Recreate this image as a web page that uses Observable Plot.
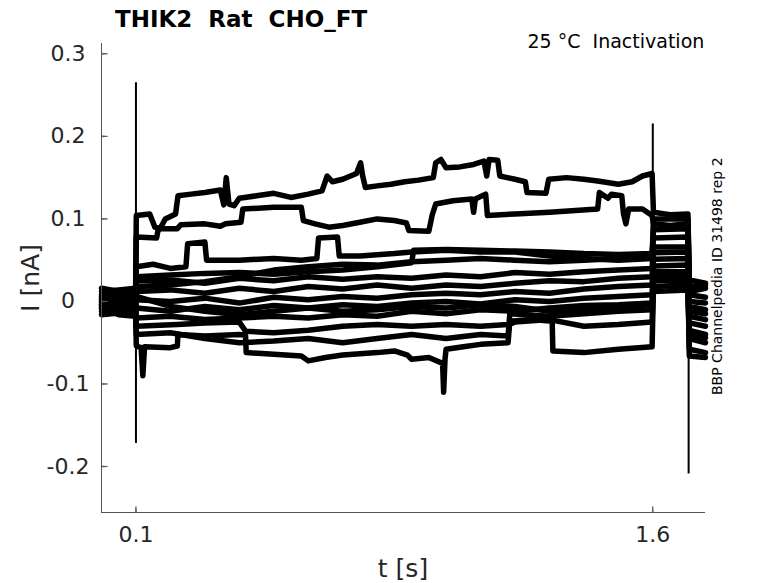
<!DOCTYPE html>
<html><head><meta charset="utf-8">
<script src="https://cdn.jsdelivr.net/npm/d3@7"></script>
<script src="https://cdn.jsdelivr.net/npm/@observablehq/plot@0.6"></script>
<style>
body{margin:0;background:#fff;}
#wrap{width:778px;height:583px;}
</style></head><body><div id="wrap"></div>
<script>
// ---- data (t in s, I in nA) ----
const xTicks = [0.1, 1.6];
const xTickLabels = ["0.1", "1.6"];
const yTicks = [0.3, 0.2, 0.1, 0, -0.1, -0.2];
const yTickLabels = ["0.3", "0.2", "0.1", "0", "-0.1", "-0.2"];
const xDomain = [0, 1.753];
const yDomain = [-0.2557, 0.3125];

// capacitive transients: [t, low, high]
const spikes = [[0.1, -0.172, 0.265], [1.6, 0.02, 0.215], [1.704, -0.209, 0.03]];

const sweepA = [[0,0.004],[0.05,0.006],[0.099,0.012],[0.101,0.104],[0.14,0.106],[0.155,0.09],[0.17,0.088],[0.185,0.1],[0.215,0.106],[0.222,0.128],[0.26,0.13],[0.3,0.132],[0.345,0.135],[0.355,0.117],[0.362,0.15],[0.37,0.118],[0.385,0.116],[0.4,0.125],[0.45,0.128],[0.5,0.131],[0.55,0.126],[0.6,0.13],[0.64,0.134],[0.655,0.152],[0.67,0.145],[0.7,0.148],[0.74,0.155],[0.752,0.168],[0.758,0.152],[0.766,0.138],[0.8,0.14],[0.84,0.142],[0.88,0.145],[0.92,0.147],[0.963,0.15],[0.97,0.168],[0.985,0.172],[1.0,0.162],[1.04,0.163],[1.08,0.166],[1.11,0.17],[1.118,0.152],[1.125,0.172],[1.15,0.171],[1.156,0.152],[1.2,0.148],[1.23,0.145],[1.235,0.132],[1.29,0.131],[1.298,0.148],[1.35,0.15],[1.4,0.148],[1.44,0.146],[1.5,0.142],[1.54,0.145],[1.57,0.152],[1.598,0.155],[1.602,0.108],[1.65,0.105],[1.702,0.106],[1.706,0.026],[1.753,0.022]];
const sweepB = [[0,-0.005],[0.05,0.004],[0.099,0.008],[0.101,0.078],[0.16,0.077],[0.165,0.088],[0.22,0.088],[0.23,0.093],[0.3,0.094],[0.345,0.091],[0.36,0.094],[0.405,0.096],[0.41,0.112],[0.5,0.114],[0.58,0.114],[0.586,0.098],[0.62,0.094],[0.66,0.09],[0.7,0.092],[0.75,0.096],[0.8,0.1],[0.85,0.098],[0.885,0.095],[0.892,0.086],[0.95,0.085],[0.96,0.105],[0.97,0.118],[1.02,0.122],[1.075,0.124],[1.08,0.108],[1.085,0.124],[1.115,0.13],[1.12,0.104],[1.2,0.106],[1.3,0.108],[1.44,0.112],[1.445,0.132],[1.47,0.125],[1.48,0.13],[1.51,0.128],[1.515,0.106],[1.522,0.094],[1.53,0.112],[1.57,0.112],[1.598,0.104],[1.602,0.094],[1.65,0.092],[1.702,0.094],[1.706,0.012],[1.753,0.016]];
const sweepC = [[0,0.008],[0.05,0.01],[0.099,0.004],[0.101,0.042],[0.15,0.045],[0.2,0.04],[0.245,0.042],[0.25,0.07],[0.3,0.072],[0.305,0.05],[0.4,0.05],[0.5,0.052],[0.58,0.05],[0.625,0.052],[0.63,0.077],[0.685,0.078],[0.69,0.055],[0.75,0.055],[0.85,0.058],[0.9,0.06],[1.0,0.062],[1.1,0.06],[1.2,0.06],[1.3,0.055],[1.4,0.052],[1.5,0.05],[1.598,0.052],[1.602,0.087],[1.702,0.088],[1.706,0.008],[1.753,0.005]];
const sweepD = [[0,-0.002],[0.05,0.002],[0.099,0.0],[0.101,0.03],[0.2,0.032],[0.3,0.034],[0.4,0.035],[0.5,0.033],[0.6,0.036],[0.7,0.038],[0.8,0.042],[0.9,0.047],[0.906,0.062],[1.0,0.063],[1.1,0.062],[1.2,0.061],[1.3,0.06],[1.4,0.058],[1.5,0.057],[1.598,0.058],[1.602,0.077],[1.702,0.078],[1.706,0.0],[1.753,-0.002]];
const sweepE = [[0,0.012],[0.05,0.014],[0.099,0.016],[0.101,0.025],[0.2,0.026],[0.3,0.022],[0.4,0.028],[0.5,0.025],[0.6,0.03],[0.7,0.027],[0.8,0.03],[0.9,0.028],[1.0,0.032],[1.1,0.03],[1.2,0.035],[1.3,0.033],[1.4,0.036],[1.5,0.038],[1.598,0.04],[1.602,0.066],[1.702,0.066],[1.706,-0.006],[1.753,-0.01]];
const sweepF = [[0,-0.008],[0.05,-0.006],[0.099,-0.01],[0.101,0.012],[0.2,0.014],[0.3,0.01],[0.4,0.016],[0.5,0.012],[0.6,0.018],[0.7,0.015],[0.8,0.02],[0.9,0.016],[1.0,0.02],[1.1,0.018],[1.2,0.022],[1.3,0.025],[1.4,0.024],[1.5,0.028],[1.598,0.03],[1.602,0.059],[1.702,0.06],[1.706,-0.012],[1.753,-0.015]];
const sweepG = [[0,0.002],[0.05,-0.002],[0.099,0.005],[0.101,0.002],[0.2,0.0],[0.3,0.004],[0.4,-0.002],[0.5,0.005],[0.6,0.002],[0.7,0.006],[0.8,0.004],[0.9,0.008],[1.0,0.01],[1.1,0.008],[1.2,0.012],[1.3,0.01],[1.4,0.015],[1.5,0.018],[1.598,0.02],[1.602,0.051],[1.702,0.052],[1.706,-0.018],[1.753,-0.022]];
const sweepH = [[0,-0.012],[0.05,-0.01],[0.099,-0.006],[0.101,-0.008],[0.2,-0.012],[0.3,-0.006],[0.4,-0.01],[0.5,-0.005],[0.6,-0.008],[0.7,-0.004],[0.8,-0.006],[0.9,-0.002],[1.0,0.0],[1.1,-0.003],[1.2,0.002],[1.3,0.0],[1.4,0.004],[1.5,0.006],[1.598,0.008],[1.602,0.043],[1.702,0.044],[1.706,-0.026],[1.753,-0.03]];
const sweepI = [[0,0.006],[0.05,0.002],[0.099,-0.004],[0.101,-0.02],[0.2,-0.018],[0.3,-0.022],[0.4,-0.02],[0.5,-0.018],[0.6,-0.02],[0.7,-0.016],[0.8,-0.018],[0.9,-0.012],[1.0,-0.015],[1.1,-0.01],[1.2,-0.012],[1.3,-0.008],[1.4,-0.005],[1.5,-0.004],[1.598,-0.002],[1.602,0.036],[1.702,0.036],[1.706,-0.035],[1.753,-0.04]];
const sweepJ = [[0,-0.016],[0.05,-0.014],[0.099,-0.012],[0.101,-0.03],[0.22,-0.028],[0.3,-0.026],[0.4,-0.025],[0.418,-0.036],[0.5,-0.038],[0.6,-0.035],[0.7,-0.03],[0.8,-0.028],[0.9,-0.03],[1.0,-0.028],[1.1,-0.03],[1.18,-0.028],[1.2,-0.025],[1.3,-0.022],[1.4,-0.03],[1.5,-0.028],[1.598,-0.025],[1.602,0.025],[1.702,0.026],[1.706,-0.045],[1.753,-0.05]];
const sweepK = [[0,0.0],[0.05,-0.004],[0.099,-0.008],[0.101,-0.054],[0.115,-0.056],[0.12,-0.09],[0.125,-0.055],[0.2,-0.056],[0.22,-0.054],[0.222,-0.04],[0.3,-0.042],[0.4,-0.04],[0.418,-0.041],[0.42,-0.062],[0.5,-0.064],[0.58,-0.066],[0.6,-0.072],[0.65,-0.068],[0.7,-0.065],[0.8,-0.062],[0.85,-0.06],[0.888,-0.065],[0.9,-0.07],[0.95,-0.068],[0.99,-0.075],[0.993,-0.11],[0.997,-0.07],[1.0,-0.058],[1.05,-0.055],[1.1,-0.052],[1.18,-0.05],[1.185,-0.024],[1.25,-0.022],[1.308,-0.024],[1.31,-0.06],[1.4,-0.062],[1.5,-0.058],[1.598,-0.055],[1.602,0.018],[1.702,0.02],[1.706,-0.058],[1.753,-0.062]];
const sweepL = [[0,-0.004],[0.05,-0.008],[0.099,-0.016],[0.101,-0.04],[0.2,-0.038],[0.3,-0.045],[0.4,-0.05],[0.5,-0.048],[0.6,-0.045],[0.7,-0.05],[0.8,-0.045],[0.9,-0.04],[1.0,-0.045],[1.1,-0.04],[1.18,-0.042],[1.185,-0.015],[1.3,-0.018],[1.4,-0.015],[1.5,-0.012],[1.598,-0.01],[1.602,0.03],[1.702,0.03],[1.706,-0.066],[1.753,-0.068]];
const sweepM = [[0,0.016],[0.05,0.012],[0.099,0.008],[0.101,0.018],[0.2,0.02],[0.3,0.024],[0.4,0.03],[0.5,0.038],[0.6,0.042],[0.7,0.045],[0.8,0.044],[0.9,0.048],[1.0,0.05],[1.1,0.052],[1.2,0.05],[1.3,0.048],[1.4,0.05],[1.5,0.052],[1.598,0.054],[1.602,0.1],[1.702,0.1],[1.706,0.018],[1.753,0.02]];
const sweepN = [[0,-0.008],[0.05,-0.016],[0.099,-0.018],[0.101,0.006],[0.2,-0.006],[0.3,-0.012],[0.4,-0.016],[0.5,-0.012],[0.6,-0.008],[0.7,-0.012],[0.8,-0.01],[0.9,-0.006],[1.0,-0.008],[1.1,-0.004],[1.2,-0.006],[1.3,-0.012],[1.4,-0.01],[1.5,-0.006],[1.598,-0.004],[1.602,0.012],[1.702,0.014],[1.706,-0.04],[1.753,-0.044]];

const sweepNames = ["A","B","C","D","E","F","G","H","I","J","K","L","M","N"];
const sweepData = [sweepA,sweepB,sweepC,sweepD,sweepE,sweepF,sweepG,sweepH,sweepI,sweepJ,sweepK,sweepL,sweepM,sweepN];

const rows = sweepData.flatMap((pts, k) => pts.map(([t, i]) => ({sweep: sweepNames[k], t, i})));
const spikeRows = spikes.map(([t, lo, hi]) => ({t, lo, hi}));

const font = "DejaVu Sans, sans-serif";
const axisColor = "#555";
const textColor = "#262626";

const chart = Plot.plot({
  width: 778, height: 583,
  marginLeft: 101, marginRight: 73, marginTop: 43, marginBottom: 71,
  x: {domain: xDomain},
  y: {domain: yDomain},
  style: {fontFamily: font, background: "#fff", overflow: "visible"},
  marks: [
    Plot.line(rows, {x: "t", y: "i", z: "sweep", stroke: "black", strokeWidth: 5.5, strokeLinejoin: "round", curve: "linear"}),
    Plot.ruleX(spikeRows, {x: "t", y1: "lo", y2: "hi", stroke: "black", strokeWidth: 2}),
    Plot.ruleX([xDomain[0]], {stroke: axisColor, strokeWidth: 1}),
    Plot.ruleY([yDomain[0]], {stroke: axisColor, strokeWidth: 1}),
    Plot.vector(yTicks, {x: yTicks.map(() => xDomain[0]), y: d => d, length: 6, rotate: 90, anchor: "start", shape: "spike", r: 0.5, stroke: axisColor, fill: axisColor, strokeWidth: 0.8}),
    Plot.vector(xTicks, {x: d => d, y: xTicks.map(() => yDomain[0]), length: 6, rotate: 0, anchor: "start", shape: "spike", r: 0.5, stroke: axisColor, fill: axisColor, strokeWidth: 0.8}),
    Plot.axisY({ticks: yTicks, tickSize: 0, tickPadding: 33.5, textAnchor: "middle", tickFormat: d => yTickLabels[yTicks.indexOf(d)], fontSize: 22, color: textColor, label: null}),
    Plot.axisX({ticks: xTicks, tickSize: 0, tickPadding: 14, tickFormat: d => xTickLabels[xTicks.indexOf(d)], fontSize: 22, color: textColor, label: null})
  ]
});

document.getElementById("wrap").appendChild(chart);

// titles and axis labels
const svg = d3.select(chart);
svg.append("text").attr("x", 115).attr("y", 27).attr("text-anchor", "start").attr("font-family", font).attr("font-weight", "bold")
  .attr("font-size", 23).attr("fill", "#000").style("white-space", "pre")
  .text("THIK2  Rat  CHO_FT");
svg.append("text").attr("x", 527.5).attr("y", 47.5).attr("text-anchor", "start").attr("font-family", font)
  .attr("font-size", 19).attr("fill", "#000").style("white-space", "pre")
  .text("25 °C  Inactivation");
svg.append("text").attr("transform", "translate(38.5,278) rotate(-90)").attr("text-anchor", "middle")
  .attr("font-family", font).attr("font-size", 25).attr("fill", textColor).style("white-space", "pre")
  .text("I [nA]");
svg.append("text").attr("x", 403).attr("y", 577).attr("text-anchor", "middle")
  .attr("font-family", font).attr("font-size", 25).attr("fill", textColor).style("white-space", "pre")
  .text("t [s]");
svg.append("text").attr("transform", "translate(721.5,395) rotate(-90)").attr("text-anchor", "start")
  .attr("font-family", font).attr("font-size", 14).attr("fill", "#000")
  .text("BBP Channelpedia ID 31498 rep 2");
</script>
</body></html>
